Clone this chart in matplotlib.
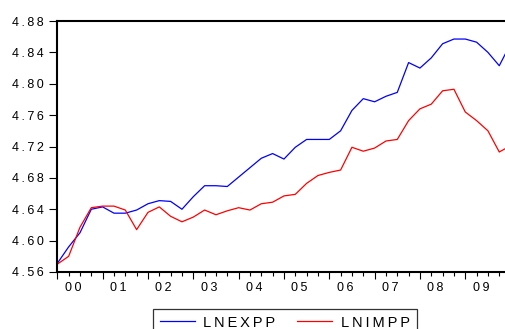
import matplotlib
matplotlib.use("Agg")
import matplotlib.pyplot as plt
import matplotlib.transforms as mtransforms
from matplotlib.ticker import MultipleLocator, NullFormatter

# quarterly series, 2000Q1 .. 2010Q1
lnexpp = [4.571, 4.592, 4.610, 4.640, 4.643, 4.635, 4.635, 4.639, 4.647, 4.651,
          4.650, 4.640, 4.656, 4.670, 4.670, 4.669, 4.681, 4.693, 4.705, 4.711,
          4.704, 4.719, 4.729, 4.729, 4.729, 4.740, 4.766, 4.781, 4.777, 4.784,
          4.789, 4.827, 4.820, 4.833, 4.851, 4.857, 4.857, 4.853, 4.840, 4.823,
          4.851]
lnimpp = [4.570, 4.580, 4.617, 4.642, 4.644, 4.644, 4.639, 4.614, 4.636, 4.643,
          4.631, 4.624, 4.630, 4.639, 4.633, 4.638, 4.642, 4.639, 4.647, 4.649,
          4.657, 4.659, 4.673, 4.683, 4.687, 4.690, 4.719, 4.714, 4.718, 4.727,
          4.729, 4.753, 4.768, 4.774, 4.791, 4.793, 4.764, 4.753, 4.740, 4.713,
          4.721]
year_labels = ["00", "01", "02", "03", "04", "05", "06", "07", "08", "09"]
y_ticks = [4.56, 4.60, 4.64, 4.68, 4.72, 4.76, 4.80, 4.84, 4.88]

plt.rcParams['font.family'] = ['Liberation Sans', 'DejaVu Sans']
TS = "\u2009"  # thin space, mimics the wide letter spacing


def spaced(s):
  return TS.join(s)


fig = plt.figure(figsize=(5.06, 3.29), dpi=100)
W, H = 506, 329
ax = fig.add_axes([57.3 / W, 1 - 272 / H, (510.6 - 57.3) / W, 251 / H])

q = list(range(len(lnexpp)))
ax.plot(q, lnexpp, color='#0000ff', linewidth=0.9, label=spaced("LNEXPP"))
ax.plot(q, lnimpp, color='#ff0000', linewidth=0.9, label=spaced("LNIMPP"))

ax.set_xlim(0, len(q) - 1)
ax.set_ylim(4.56, 4.88)

for s in ['top', 'left', 'bottom', 'right']:
  ax.spines[s].set_linewidth(1.5)
  ax.spines[s].set_color('black')

ax.set_yticks(y_ticks)
ax.set_yticklabels([spaced("%.2f" % v) for v in y_ticks])
ax.tick_params(axis='y', length=6, width=0.8, pad=4, labelsize=9)

ax.xaxis.set_major_locator(MultipleLocator(4))
ax.xaxis.set_minor_locator(MultipleLocator(1))
ax.xaxis.set_major_formatter(NullFormatter())
ax.tick_params(axis='x', which='major', length=5, width=0.8)
ax.tick_params(axis='x', which='minor', length=3, width=0.8)

trans = mtransforms.blended_transform_factory(ax.transData, ax.transAxes)
for k, lab in enumerate(year_labels):
  ax.text(4 * k + 1.38, -0.064, spaced(lab), transform=trans,
          ha='center', va='center', fontsize=9)

leg = fig.legend(loc='upper left', bbox_to_anchor=(153 / W, 1 - 309 / H),
                 ncol=2, fontsize=10.5, frameon=True, fancybox=False,
                 borderpad=0.45, handlelength=2.4, handletextpad=0.6,
                 columnspacing=1.5, borderaxespad=0)
leg.get_frame().set_edgecolor('black')
leg.get_frame().set_linewidth(0.9)

fig.savefig("out.png", dpi=100)
